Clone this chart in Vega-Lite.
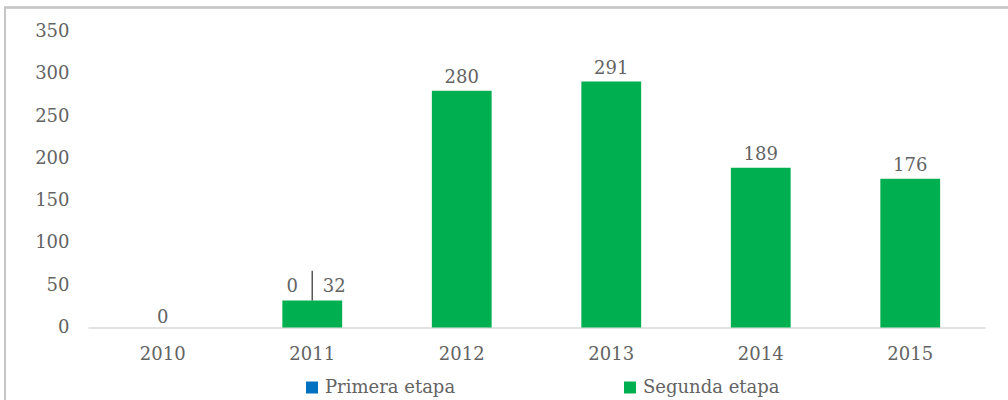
{
  "$schema": "https://vega.github.io/schema/vega-lite/v6.json",
  "width": 897,
  "height": 296,
  "autosize": "none",
  "padding": {"left": 88, "top": 31.5, "right": 23, "bottom": 72.5},
  "background": "white",
  "config": {
    "view": {"stroke": null},
    "font": "DejaVu Serif",
    "text": {"font": "DejaVu Serif"}
  },
  "data": {
    "values": [
      {"year": "2010", "serie": "Primera etapa", "value": 0},
      {"year": "2011", "serie": "Primera etapa", "value": 0},
      {"year": "2011", "serie": "Segunda etapa", "value": 32},
      {"year": "2012", "serie": "Segunda etapa", "value": 280},
      {"year": "2013", "serie": "Segunda etapa", "value": 291},
      {"year": "2014", "serie": "Segunda etapa", "value": 189},
      {"year": "2015", "serie": "Segunda etapa", "value": 176}
    ]
  },
  "resolve": {"scale": {"x": "independent", "y": "independent"}, "axis": {"x": "independent", "y": "independent"}},
  "layer": [
    {
      "mark": {"type": "rect", "fill": null, "stroke": "#c6c6c6", "strokeWidth": 1.5, "clip": false},
      "encoding": {
        "x": {"datum": -0.0925, "type": "quantitative", "scale": {"domain": [0, 1]}, "axis": null},
        "x2": {"datum": 1.2},
        "y": {"datum": 378.4, "type": "quantitative", "scale": {"domain": [0, 350]}, "axis": null},
        "y2": {"datum": -100}
      }
    },
    {
      "resolve": {"scale": {"x": "shared", "y": "shared"}},
      "encoding": {
        "x": {
          "field": "year", "type": "nominal", "sort": null,
          "scale": {"paddingInner": 0.6, "paddingOuter": 0.3},
          "axis": {
            "title": null, "labelAngle": 0, "ticks": false, "grid": false,
            "domainColor": "#d9d9d9", "domainWidth": 1.5,
            "labelFont": "DejaVu Serif", "labelFontSize": 18, "labelColor": "#636363",
            "labelPadding": 18
          }
        },
        "y": {
          "field": "value", "type": "quantitative", "stack": "zero",
          "scale": {"domain": [0, 350], "nice": false},
          "axis": {
            "title": null, "values": [0, 50, 100, 150, 200, 250, 300, 350],
            "domain": false, "ticks": false, "gridColor": "#d9d9d9", "gridWidth": 1.5,
            "labelFont": "DejaVu Serif", "labelFontSize": 18, "labelColor": "#636363",
            "labelPadding": 19
          }
        }
      },
      "layer": [
        {
          "mark": {"type": "bar"},
          "encoding": {
            "color": {
              "field": "serie", "type": "nominal",
              "scale": {"domain": ["Primera etapa", "Segunda etapa"], "range": ["#0070C0", "#00B050"]},
              "legend": {
                "title": null, "orient": "none", "legendX": 215, "legendY": 347,
                "direction": "horizontal", "columnPadding": 165,
                "labelFont": "DejaVu Serif", "labelFontSize": 18, "labelColor": "#636363",
                "symbolType": "square", "symbolSize": 144, "symbolStrokeWidth": 0,
                "labelOffset": 4, "padding": 0
              }
            },
            "order": {"field": "serie", "sort": "ascending"}
          }
        },
        {
          "transform": [{"filter": "datum.year == '2011' && datum.serie == 'Segunda etapa'"}],
          "mark": {"type": "rule", "color": "#595959", "strokeWidth": 1.5},
          "encoding": {"y2": {"datum": 67}}
        },
        {
          "transform": [{"filter": "datum.serie == 'Segunda etapa' && datum.year != '2011'"}],
          "mark": {"type": "text", "baseline": "alphabetic", "dy": -7.7, "fontSize": 18, "color": "#636363"},
          "encoding": {"text": {"field": "value", "type": "quantitative"}}
        },
        {
          "transform": [{"filter": "datum.serie == 'Primera etapa' && datum.year == '2010'"}],
          "mark": {"type": "text", "baseline": "alphabetic", "dy": -4.2, "fontSize": 18, "color": "#636363"},
          "encoding": {"text": {"field": "value", "type": "quantitative"}}
        },
        {
          "transform": [{"filter": "datum.serie == 'Primera etapa' && datum.year == '2011'"}],
          "mark": {"type": "text", "baseline": "alphabetic", "dx": -20, "dy": -35.5, "fontSize": 18, "color": "#636363"},
          "encoding": {"text": {"field": "value", "type": "quantitative"}}
        },
        {
          "transform": [{"filter": "datum.serie == 'Segunda etapa' && datum.year == '2011'"}],
          "mark": {"type": "text", "baseline": "alphabetic", "dx": 22, "dy": -8.4, "fontSize": 18, "color": "#636363"},
          "encoding": {"text": {"field": "value", "type": "quantitative"}}
        }
      ]
    }
  ]
}
